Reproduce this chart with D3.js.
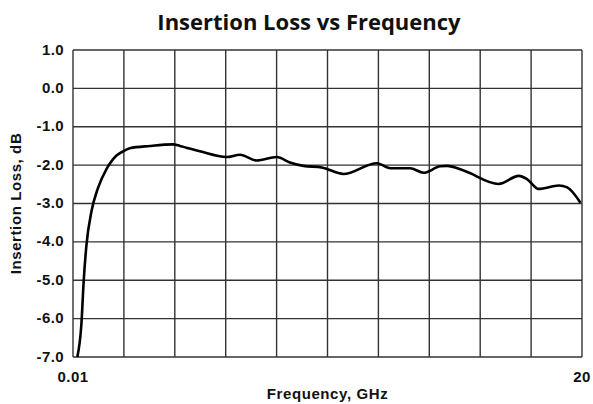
<!DOCTYPE html>
<html>
<head>
<meta charset="utf-8">
<script src="https://d3js.org/d3.v7.min.js"></script>
<style>
  body { margin: 0; background: #fff; }
  .grid line { stroke: #333; stroke-width: 1.4; }
  .lbl { font-family: "Liberation Sans", Arial, sans-serif; font-weight: bold; fill: #111; }
</style>
</head>
<body>
<script>
  const freq = [0.18, 0.34, 0.43, 0.54, 0.74, 0.99, 1.33, 1.72, 1.98, 2.24, 3.03, 3.94, 4.21, 4.99,
                6.04, 6.57, 7.22, 8.01, 8.53, 9.06, 9.78, 10.63, 11.94, 12.47, 13.25, 13.78, 14.43,
                14.70, 15.35, 16.73, 17.52, 17.85, 18.30, 19.09, 19.42, 19.94];
  const loss = [-7.0, -6.14, -5.02, -4.07, -3.19, -2.60, -2.10, -1.75, -1.64, -1.56, -1.50, -1.46, -1.50, -1.64,
                -1.79, -1.73, -1.88, -1.79, -1.93, -2.02, -2.06, -2.23, -1.95, -2.08, -2.08, -2.20, -2.03,
                -2.02, -2.14, -2.49, -2.28, -2.37, -2.62, -2.53, -2.58, -2.98];
  const yTicks = [1, 0, -1, -2, -3, -4, -5, -6, -7];
  const xGrid = d3.range(0, 11).map(i => 0.01 + i * (20 - 0.01) / 10);
  const xTickLabels = ["0.01", "20"];

  const width = 593, height = 404,
        m = {left: 73, right: 11, top: 50, bottom: 47};

  const x = d3.scaleLinear().domain([0.01, 20]).range([m.left, width - m.right]);
  const y = d3.scaleLinear().domain([-7, 1]).range([height - m.bottom, m.top]);

  const svg = d3.select("body").append("svg")
      .attr("width", width)
      .attr("height", height);

  const grid = svg.append("g").attr("class", "grid");
  grid.selectAll(".v").data(xGrid).enter().append("line")
      .attr("x1", d => x(d)).attr("x2", d => x(d))
      .attr("y1", y(1)).attr("y2", y(-7));
  grid.selectAll(".h").data(yTicks).enter().append("line")
      .attr("x1", x(0.01)).attr("x2", x(20))
      .attr("y1", d => y(d)).attr("y2", d => y(d));

  svg.selectAll(".ytick").data(yTicks).enter().append("text")
      .attr("class", "lbl")
      .attr("x", m.left - 9)
      .attr("y", d => y(d))
      .attr("dy", "0.3em")
      .attr("text-anchor", "end")
      .style("font-size", "15px")
      .style("letter-spacing", "0.4px")
      .text(d => d.toFixed(1));

  svg.selectAll(".xtick").data(xTickLabels).enter().append("text")
      .attr("class", "lbl")
      .attr("x", d => x(+d))
      .attr("y", 382)
      .attr("text-anchor", "middle")
      .style("font-size", "15px")
      .style("letter-spacing", "0.4px")
      .text(d => d);

  const line = d3.line()
      .x((d, i) => x(freq[i]))
      .y(d => y(d))
      .curve(d3.curveMonotoneX);

  svg.append("path")
      .datum(loss)
      .attr("d", line)
      .attr("fill", "none")
      .attr("stroke", "#000")
      .attr("stroke-width", 2.6)
      .attr("stroke-linejoin", "round");

  svg.append("text")
      .attr("x", 309).attr("y", 30)
      .attr("text-anchor", "middle")
      .style("font-family", "'Open Sans', sans-serif")
      .style("font-weight", "bold")
      .style("font-size", "22px")
      .style("fill", "#111")
      .text("Insertion Loss vs Frequency");

  svg.append("text")
      .attr("class", "lbl")
      .attr("x", (x(0.01) + x(20)) / 2).attr("y", 399)
      .attr("text-anchor", "middle")
      .style("font-size", "15px")
      .style("letter-spacing", "0.6px")
      .text("Frequency, GHz");

  svg.append("text")
      .attr("class", "lbl")
      .attr("transform", `translate(21, ${(y(1) + y(-7)) / 2}) rotate(-90)`)
      .attr("text-anchor", "middle")
      .style("font-size", "15px")
      .style("letter-spacing", "0.6px")
      .text("Insertion Loss, dB");
</script>
</body>
</html>
